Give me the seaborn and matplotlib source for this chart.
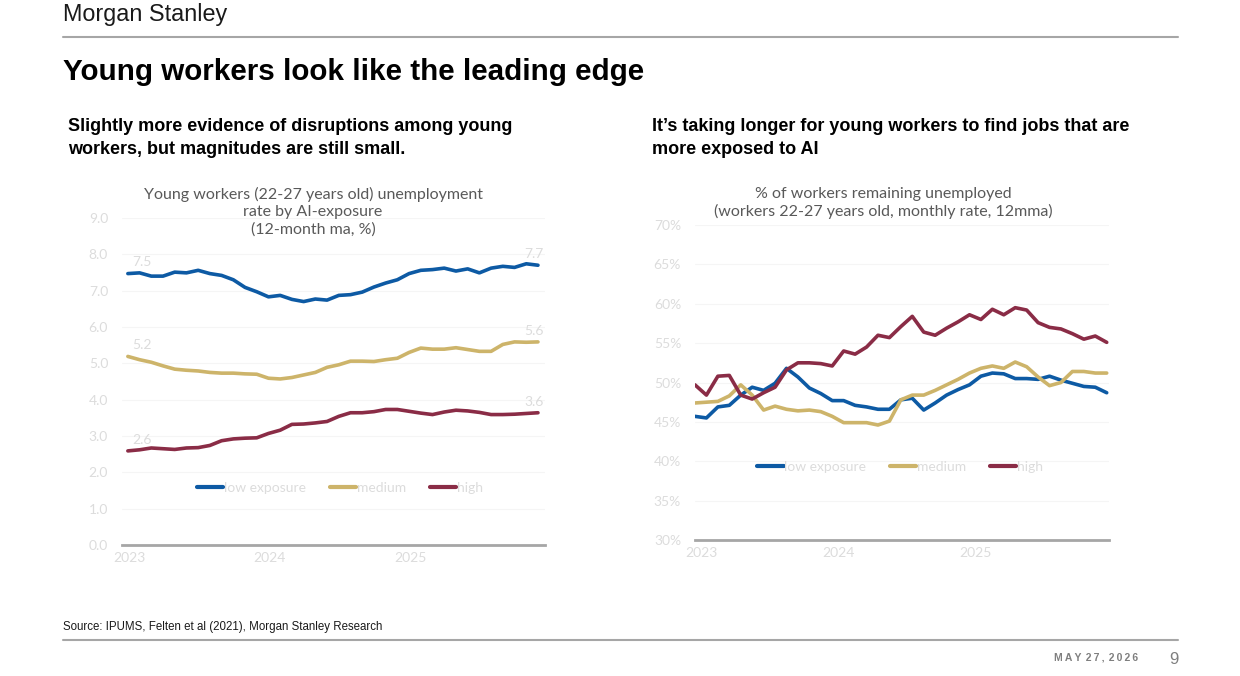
import numpy as np
import pandas as pd
import matplotlib
matplotlib.use("Agg")
import matplotlib.pyplot as plt
from matplotlib.lines import Line2D
import seaborn as sns

# ---------------- data ----------------
series_names = ["low exposure", "medium", "high"]
year_labels = ["2023", "2024", "2025"]

# Left chart: unemployment rate, 12-month ma (%), monthly Jan-2023 .. Dec-2025
left_low = [7.47, 7.49, 7.40, 7.40, 7.51, 7.49, 7.56, 7.47, 7.42, 7.30, 7.09, 6.97,
            6.83, 6.87, 6.76, 6.70, 6.77, 6.74, 6.87, 6.89, 6.96, 7.10, 7.21, 7.30,
            7.47, 7.56, 7.58, 7.62, 7.54, 7.60, 7.49, 7.62, 7.67, 7.64, 7.74, 7.70]
left_medium = [5.19, 5.10, 5.03, 4.93, 4.84, 4.81, 4.79, 4.75, 4.73, 4.73, 4.71, 4.70,
               4.59, 4.57, 4.61, 4.68, 4.75, 4.89, 4.96, 5.06, 5.06, 5.05, 5.10, 5.14,
               5.30, 5.42, 5.39, 5.39, 5.43, 5.38, 5.33, 5.33, 5.52, 5.59, 5.58, 5.59]
left_high = [2.59, 2.62, 2.67, 2.65, 2.63, 2.67, 2.68, 2.74, 2.87, 2.92, 2.94, 2.95,
             3.07, 3.16, 3.32, 3.33, 3.36, 3.40, 3.54, 3.64, 3.64, 3.67, 3.73, 3.73,
             3.68, 3.63, 3.59, 3.66, 3.71, 3.69, 3.65, 3.59, 3.59, 3.60, 3.62, 3.64]
left_start_labels = ["7.5", "5.2", "2.6"]
left_end_labels = ["7.7", "5.6", "3.6"]
left_yticks = [0, 1, 2, 3, 4, 5, 6, 7, 8, 9]

# Right chart: % of workers remaining unemployed (12mma), monthly Jan-2023 .. Jan-2026
right_low = [45.7, 45.5, 46.9, 47.1, 48.4, 49.4, 49.0, 49.9, 51.8, 50.7, 49.3, 48.6,
             47.7, 47.7, 47.1, 46.9, 46.6, 46.6, 47.8, 48.0, 46.5, 47.4, 48.4, 49.1,
             49.7, 50.8, 51.2, 51.1, 50.5, 50.5, 50.4, 50.8, 50.3, 49.9, 49.5, 49.4, 48.7]
right_medium = [47.4, 47.5, 47.6, 48.3, 49.7, 48.4, 46.5, 47.0, 46.6, 46.4, 46.5, 46.3,
                45.7, 44.9, 44.9, 44.9, 44.6, 45.1, 47.8, 48.4, 48.4, 49.0, 49.7, 50.4,
                51.2, 51.8, 52.1, 51.8, 52.6, 52.0, 50.7, 49.6, 50.0, 51.4, 51.4, 51.2, 51.2]
right_high = [49.7, 48.4, 50.8, 50.9, 48.4, 47.9, 48.7, 49.4, 51.6, 52.5, 52.5, 52.4,
              52.1, 54.0, 53.6, 54.5, 56.0, 55.7, 57.1, 58.4, 56.4, 56.0, 56.9, 57.7,
              58.6, 58.0, 59.3, 58.6, 59.5, 59.2, 57.6, 57.0, 56.8, 56.2, 55.5, 55.9, 55.1]
right_yticks = [30, 35, 40, 45, 50, 55, 60, 65, 70]

colors = ["#0d5aa4", "#cdb46a", "#8a2c46"]

# ---------------- figure ----------------
W, H = 1240, 676
sns.set_theme(style="white")
plt.rcParams["font.family"] = ["Liberation Sans", "DejaVu Sans"]
fig = plt.figure(figsize=(W / 100, H / 100), dpi=100)
fig.patch.set_facecolor("white")


def rect(l, t, r, b):
    return [l / W, 1 - b / H, (r - l) / W, (b - t) / H]


def fx(x):
    return x / W


def fy(y):
    return 1 - y / H


light = "#dcdcdc"
tick_font = dict(family=["Lato", "DejaVu Sans"], size=10, color=light)


def long_df(values_list):
    rows = []
    for name, vals in zip(series_names, values_list):
        for i, v in enumerate(vals):
            rows.append({"idx": i, "value": v, "series": name})
    return pd.DataFrame(rows)


def style_axes(ax, ylim, yticks, yfmt, xlim, ypad, xshift):
    ax.set_xlim(*xlim)
    ax.set_ylim(*ylim)
    ax.set_yticks(yticks)
    ax.set_yticklabels([yfmt(v) for v in yticks], **tick_font)
    ax.set_xticks([0 + xshift, 12 + xshift, 24 + xshift])
    ax.set_xticklabels(year_labels, **tick_font)
    ax.tick_params(axis="both", length=0)
    ax.tick_params(axis="y", pad=ypad)
    ax.tick_params(axis="x", pad=5)
    for s in ["top", "right", "left"]:
        ax.spines[s].set_visible(False)
    ax.spines["bottom"].set_color("#a6a6a6")
    ax.spines["bottom"].set_linewidth(2)
    ax.grid(axis="y", color="#f5f5f5", lw=0.8)
    ax.set_xlabel("")
    ax.set_ylabel("")
    ax.set_facecolor("white")


def add_legend(ax, x, y):
    handles = [Line2D([0], [0], color=c, lw=3) for c in colors]
    leg = ax.legend(handles, series_names, loc="center", bbox_to_anchor=(x, y),
                    ncol=3, frameon=False, handlelength=1.9, handletextpad=0.05,
                    columnspacing=1.7,
                    prop=dict(family=["Lato", "DejaVu Sans"], size=10))
    for t in leg.get_texts():
        t.set_color(light)


# ---- left chart ----
axL = fig.add_axes(rect(122, 218, 545, 545))
dfL = long_df([left_low, left_medium, left_high])
sns.lineplot(data=dfL, x="idx", y="value", hue="series", palette=colors,
             linewidth=2.6, ax=axL, legend=False)
style_axes(axL, (0, 9), left_yticks, lambda v: f"{v:.1f}", (-0.5, 35.6), 10, 0.1)
add_legend(axL, 0.515, 0.174)
for vals, s_lab, e_lab in zip([left_low, left_medium, left_high], left_start_labels, left_end_labels):
    axL.annotate(s_lab, (0, vals[0]), xytext=(10, 8), textcoords="offset points",
                 ha="center", va="center", **tick_font)
    axL.annotate(e_lab, (len(vals) - 1, vals[-1]), xytext=(-3, 8), textcoords="offset points",
                 ha="center", va="center", **tick_font)

# ---- right chart ----
axR = fig.add_axes(rect(695, 225, 1109, 540))
dfR = long_df([right_low, right_medium, right_high])
sns.lineplot(data=dfR, x="idx", y="value", hue="series", palette=colors,
             linewidth=2.6, ax=axR, legend=False)
style_axes(axR, (30, 70), right_yticks, lambda v: f"{v:d}%", (0, 36.2), 10, 0.55)
add_legend(axR, 0.495, 0.232)

# ---------------- page text ----------------
fig.text(fx(63), fy(14), "Morgan Stanley", family=["Liberation Sans Narrow", "Liberation Sans"],
         size=16.8, color="#1a1a1a", va="center", ha="left")
fig.add_artist(Line2D([fx(63), fx(1178)], [fy(37), fy(37)], color="#a6a6a6", lw=1.5))
fig.text(fx(63), fy(72), "Young workers look like the leading edge", size=21.3,
         weight="bold", color="black", va="center", ha="left")
fig.text(fx(68), fy(138), "Slightly more evidence of disruptions among young\nworkers, but magnitudes are still small.",
         size=13, weight="bold", color="black", va="center", ha="left", linespacing=1.45)
fig.text(fx(652), fy(138), "It\u2019s taking longer for young workers to find jobs that are\nmore exposed to AI",
         size=13, weight="bold", color="black", va="center", ha="left", linespacing=1.45)

title_font = dict(family=["Lato", "DejaVu Sans"], size=11.5, color="#595959")
fig.text(fx(313), fy(212), "Young workers (22-27 years old) unemployment\nrate by AI-exposure\n(12-month ma, %)",
         ha="center", va="center", linespacing=1.3, **title_font)
fig.text(fx(883), fy(203), "% of workers remaining unemployed\n(workers 22-27 years old, monthly rate, 12mma)",
         ha="center", va="center", linespacing=1.3, **title_font)

fig.text(fx(63), fy(627), "Source: IPUMS, Felten et al (2021), Morgan Stanley Research",
         family=["Liberation Sans Narrow", "Liberation Sans"], size=8.3, color="#1a1a1a",
         va="center", ha="left")
fig.add_artist(Line2D([fx(63), fx(1178)], [fy(640), fy(640)], color="#a6a6a6", lw=1.5))
fig.text(fx(1138), fy(657), "M A Y  2 7 ,  2 0 2 6".replace("  ", "\u2009 ").replace(" ", "\u2009"),
         size=7.5, weight="bold", color="#7f7f7f", va="center", ha="right")
fig.text(fx(1174), fy(660), "9", size=12, color="#7f7f7f", va="center", ha="center")

fig.savefig("out.png", dpi=100, facecolor="white")
